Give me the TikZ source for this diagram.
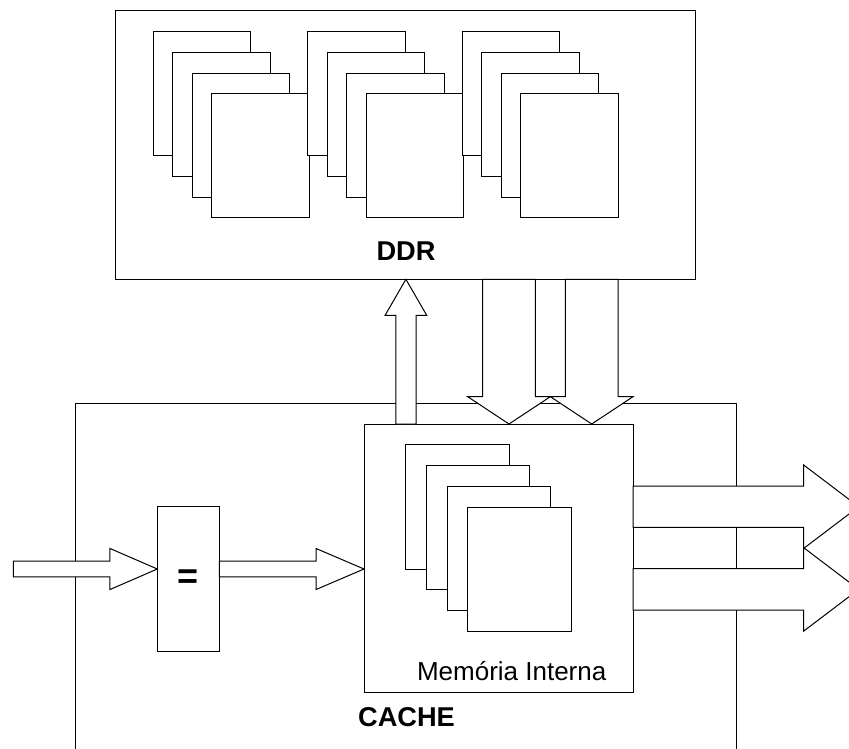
\documentclass[tikz,border=0pt]{standalone}
\usepackage{fontspec}
\setmainfont{Liberation Sans}
\usetikzlibrary{calc,fit}

\tikzset{every picture/.style={line width=0.75pt}}
\tikzset{
  box/.style={draw, fill=white, inner sep=0pt, outer sep=0pt},
  page/.style={draw, fill=white, inner sep=0pt, outer sep=0pt},
  blockarrow/.style={draw, fill=white, line join=miter},
  bold label/.style={font=\fontsize{20.4}{24}\selectfont\bfseries, inner sep=0pt},
  plain label/.style={font=\fontsize{19.5}{23}\selectfont, inner sep=0pt}
}

% fat arrow: tail, tip, shaft half width, head half width, head length
\newcommand{\fatarrow}[5]{%
  \coordinate (fa-t) at (#1);
  \coordinate (fa-p) at (#2);
  \coordinate (fa-h) at ($(fa-p)!#5!(fa-t)$);
  \draw[blockarrow] ($(fa-t)!#3!90:(fa-p)$) -- ($(fa-h)!#3!90:(fa-p)$) -- ($(fa-h)!#4!90:(fa-p)$) -- (fa-p)
    -- ($(fa-h)!#4!-90:(fa-p)$) -- ($(fa-h)!#3!-90:(fa-p)$) -- ($(fa-t)!#3!-90:(fa-p)$) -- cycle;
}

\begin{document}
\begin{tikzpicture}[x=0.75pt,y=0.75pt,yscale=-1,xscale=1]
\useasboundingbox (0,0) rectangle (849,749);
\clip (0,0) rectangle (849,749);

%Shape: Rectangle [DDR]
\node[box, fit={(115,11) (695.7,279.3)}] (ddr) {};
%Shape: Rectangle [CACHE]
\node[box, fit={(75,403.3) (736.7,780)}] (cache) {};
%Shape: Rectangle [Memoria Interna]
\node[box, fit={(364,424) (633,692.7)}] (mem) {};
%Shape: Rectangle [comparator]
\node[box, fit={(157.3,506.7) (219.3,651.7)}] (eq) {};

% memory banks of the DDR
\foreach \s in {0,1,2}
  \foreach \k in {0,...,3}
    \node[page, fit={({153.3+154.5*\s+19.5*\k},{31.7+20.7*\k}) ({250.6+154.5*\s+19.5*\k},{155.7+20.7*\k})}] (bank\s\k) {};

% pages of the internal memory
\foreach \k in {0,...,3}
  \node[page, fit={({405.7+20.7*\k},{444.3+20.9*\k}) ({509+20.7*\k},{569+20.9*\k})}] (page\k) {};

% free ends and lanes of the arrows
\coordinate (inln) at (13.3,569);
\coordinate (upx) at (405.9,340);
\coordinate (dnx1) at (509,340);
\coordinate (dnx2) at (591.7,340);
\coordinate (out1) at (858.7,506.7);
\coordinate (out2) at (858.7,589.4);

%Block Arrows
\fatarrow{inln}{eq.west |- inln}{5.9pt}{15.4pt}{35.5pt}
\fatarrow{eq.east |- inln}{mem.west |- inln}{5.9pt}{15.4pt}{36pt}
\fatarrow{upx |- mem.north}{upx |- ddr.south}{7.6pt}{15.6pt}{27pt}
\fatarrow{dnx1 |- ddr.south}{dnx1 |- mem.north}{19.75pt}{31pt}{20.5pt}
\fatarrow{dnx2 |- ddr.south}{dnx2 |- mem.north}{19.75pt}{31pt}{20.5pt}
\fatarrow{mem.east |- out1}{out1}{15.5pt}{31.3pt}{41.3pt}
\fatarrow{mem.east |- out2}{out2}{15.5pt}{31.3pt}{41.3pt}

% Text Node
\node[font=\fontsize{27}{30}\selectfont\bfseries, inner sep=0pt] (eqsign) at (eq.center) {=};
% Text Node
\node[bold label, anchor=base] (ddrlbl) at (406,260) {DDR};
% Text Node
\node[plain label, anchor=base] (memlbl) at (511.7,680) {Memória Interna};
% Text Node
\node[bold label, anchor=base] (cachelbl) at (406.5,726.7) {CACHE};

\end{tikzpicture}
\end{document}
